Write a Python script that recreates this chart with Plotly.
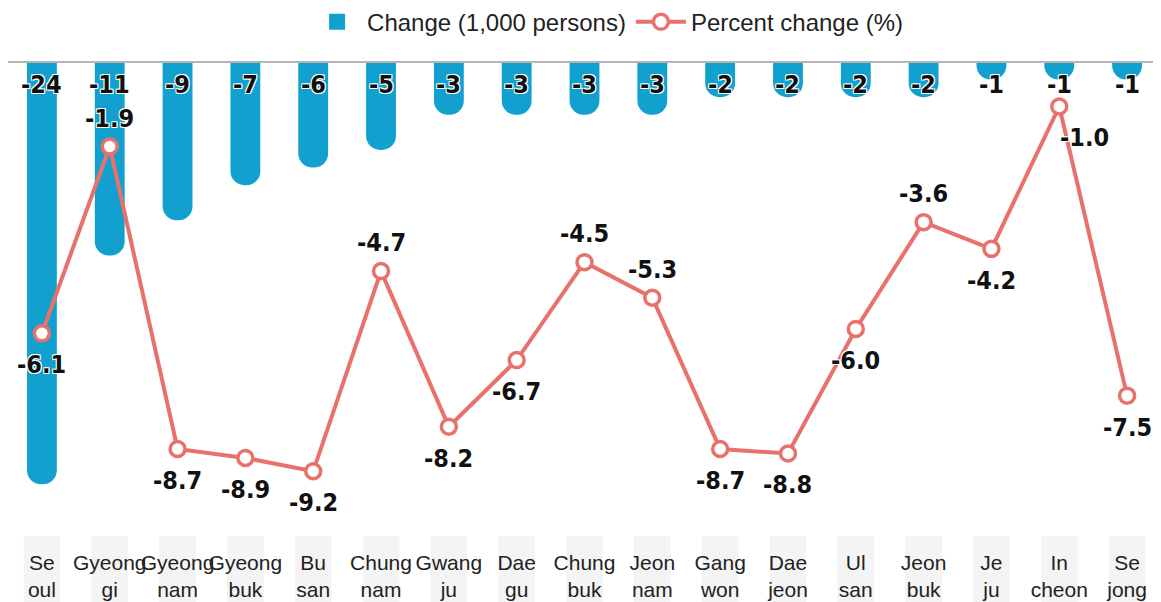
import plotly.graph_objects as go

regions = ["Se<br>oul", "Gyeong<br>gi", "Gyeong<br>nam", "Gyeong<br>buk", "Bu<br>san",
           "Chung<br>nam", "Gwang<br>ju", "Dae<br>gu", "Chung<br>buk", "Jeon<br>nam",
           "Gang<br>won", "Dae<br>jeon", "Ul<br>san", "Jeon<br>buk", "Je<br>ju",
           "In<br>cheon", "Se<br>jong"]
change = [-24, -11, -9, -7, -6, -5, -3, -3, -3, -3, -2, -2, -2, -2, -1, -1, -1]
pct = [-6.1, -1.9, -8.7, -8.9, -9.2, -4.7, -8.2, -6.7, -4.5, -5.3, -8.7, -8.8,
       -6.0, -3.6, -4.2, -1.0, -7.5]
# where each percent label sits relative to its point
pct_side = ["below", "above", "below", "below", "below", "above", "below", "below",
            "above", "above", "below", "below", "below", "above", "below", "right", "below"]

BLUE = "#12a1cf"
RED = "#e9716c"
LBL = "DejaVu Sans Condensed, sans-serif"
SHADOW = "1px 1px 0 #fff, -1px -1px 0 #fff, 1px -1px 0 #fff, -1px 1px 0 #fff"
lbl_font = dict(family=LBL, size=25, color="#111", weight="bold", shadow=SHADOW)

fig = go.Figure()

fig.add_trace(go.Bar(
    x=regions, y=change, name="Change (1,000 persons)", showlegend=False,
    marker=dict(color=BLUE, cornerradius="50%", line_width=0),
    width=0.44, hoverinfo="y",
))

# value labels of the bars, hung just under the zero baseline
for r, v in zip(regions, change):
    fig.add_annotation(x=r, y=0, yref="y", text=f"-{abs(v)}", showarrow=False,
                       yanchor="top", yshift=-6, font=lbl_font)

# legend entry for the bars
fig.add_trace(go.Scatter(
    x=[None], y=[None], mode="markers", name="Change (1,000 persons)",
    marker=dict(symbol="square", size=17, color=BLUE),
))

fig.add_trace(go.Scatter(
    x=regions, y=pct, name="Percent change (%)", yaxis="y2",
    mode="lines+markers",
    line=dict(color=RED, width=4),
    marker=dict(symbol="circle", size=15, color="white", line=dict(color=RED, width=3.5)),
    cliponaxis=False,
))

for r, v, side in zip(regions, pct, pct_side):
    if side == "above":
        kw = dict(yanchor="bottom", yshift=12)
    elif side == "right":
        kw = dict(yanchor="top", yshift=-15, xshift=25)
    else:
        kw = dict(yanchor="top", yshift=-15)
    fig.add_annotation(x=r, y=v, yref="y2", text=f"{v:.1f}", showarrow=False,
                       font=lbl_font, **kw)

# light gray boxes behind the category names
for i in range(len(regions)):
    fig.add_shape(type="rect", xref="x", yref="paper", x0=i - 0.27, x1=i + 0.27,
                  y0=-0.013, y1=-0.16, line_width=0, fillcolor="#f4f4f4", layer="below")

# top baseline
fig.add_shape(type="line", xref="paper", yref="paper", x0=0, x1=0.994, y0=1, y1=1,
              line=dict(color="#b5b5b5", width=2), layer="above")

# the page body adds an 8px margin, so the figure is 8px smaller than the window
fig.update_layout(
    width=1153, height=594,
    margin=dict(l=0, r=0, t=54, b=72, autoexpand=False),
    paper_bgcolor="white", plot_bgcolor="white",
    font=dict(family="Liberation Sans, Arial, sans-serif", size=20, color="#222"),
    showlegend=True,
    legend=dict(orientation="h", x=0.52, xanchor="center", y=1.085, yanchor="middle",
                font=dict(size=24), itemwidth=50, traceorder="normal",
                bgcolor="rgba(0,0,0,0)"),
    xaxis=dict(showgrid=False, showline=False, ticks="", tickangle=0, automargin=False,
               ticklabelstandoff=18, tickfont=dict(size=21, color="#222"),
               range=[-0.5, len(regions) - 0.5]),
    yaxis=dict(range=[-26.6, 0], visible=False, showgrid=False),
    yaxis2=dict(range=[-10.52, 0], visible=False, overlaying="y", showgrid=False),
)

fig.write_html("out.html")
